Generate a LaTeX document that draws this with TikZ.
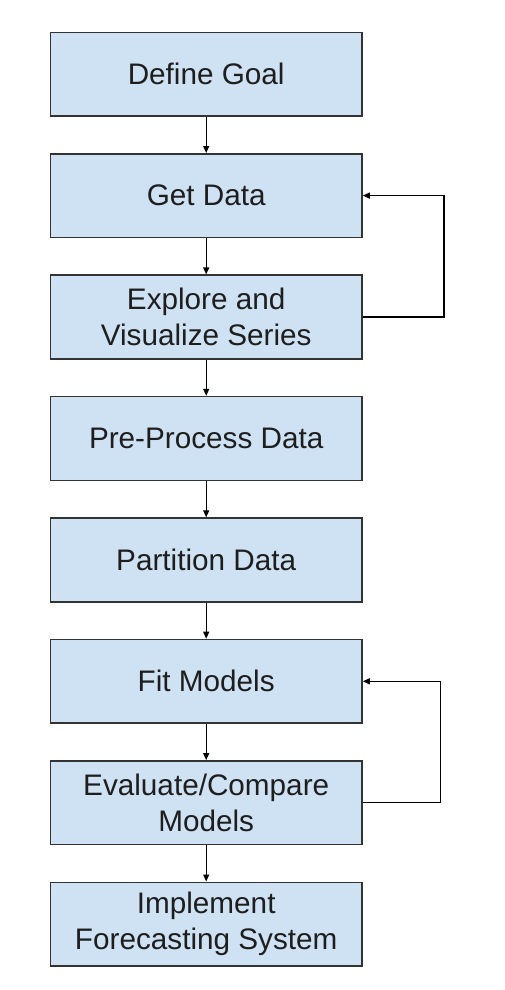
\documentclass[tikz,border=0pt]{standalone}
\usepackage{fontspec}
\setmainfont{Liberation Sans}
\usetikzlibrary{arrows.meta}
\definecolor{boxfill}{HTML}{CFE2F3}
\definecolor{boxline}{HTML}{333333}
\definecolor{txt}{HTML}{1E1E1E}
\begin{document}
\begin{tikzpicture}[x=1pt,y=1pt,
  stepbox/.style={draw=boxline, line width=1.5pt, fill=boxfill, rectangle,
    minimum width=311.7pt, minimum height=83.7pt, inner sep=0pt, align=center,
    text=txt, font=\fontsize{29.7pt}{35.6pt}\selectfont},
  conn/.style={draw=black, line width=1.2pt, -{Triangle[length=7pt,width=6pt]}}]
\useasboundingbox (0,0) rectangle (504,-990);
\fill[white] (0,0) rectangle (504,-990);
\node[stepbox] (goal)  at (206.2,-74.15)  {Define Goal};
\node[stepbox] (get)   at (206.2,-195.6)  {Get Data};
\node[stepbox] (expl)  at (206.2,-317.0)  {Explore and\\Visualize Series};
\node[stepbox] (pre)   at (206.2,-438.4)  {Pre-Process Data};
\node[stepbox] (part)  at (206.2,-559.9)  {Partition Data};
\node[stepbox] (fit)   at (206.2,-681.3)  {Fit Models};
\node[stepbox] (eval)  at (206.2,-802.7)  {Evaluate/Compare\\Models};
\node[stepbox] (impl)  at (206.2,-924.1)  {Implement\\Forecasting System};
\draw[conn] (goal) -- (get);
\draw[conn] (get) -- (expl);
\draw[conn] (expl) -- (pre);
\draw[conn] (pre) -- (part);
\draw[conn] (part) -- (fit);
\draw[conn] (fit) -- (eval);
\draw[conn] (eval) -- (impl);
\coordinate (l1) at (444,0);
\coordinate (l2) at (440.7,0);
\draw[conn] (expl.east) -- (expl.east -| l1) -- (get.east -| l1) -- (get.east);
\draw[conn] (eval.east) -- (eval.east -| l2) -- (fit.east -| l2) -- (fit.east);
\end{tikzpicture}
\end{document}
